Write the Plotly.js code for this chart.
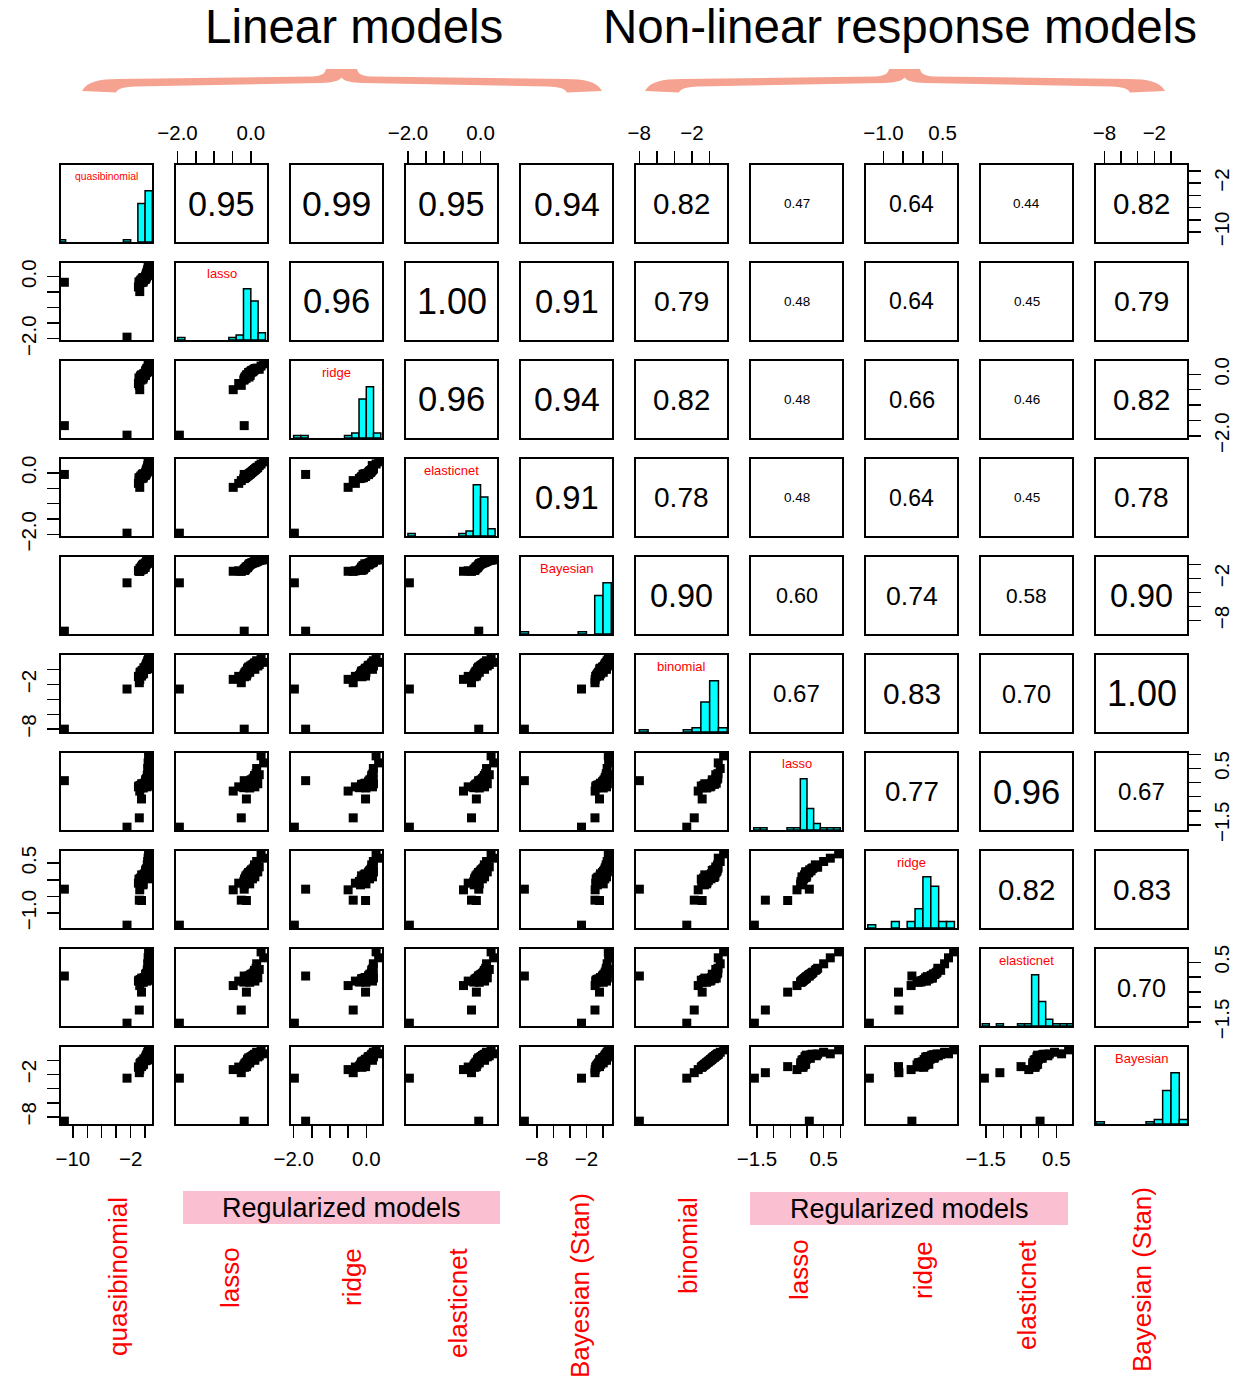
<!DOCTYPE html>
<html>
<head>
<meta charset="utf-8">
<script src="https://cdn.plot.ly/plotly-3.0.1.min.js"></script>
<style>
  html, body { margin: 0; padding: 0; background: #fff; }
  #chart { width: 1246px; height: 1381px; }
</style>
</head>
<body>
<div id="chart"></div>
<script>
// ---- Model estimates (one value per observation, same order in every array) ----
const quasibinomial = [-11.17, -2.5, -0.74, -0.92, -0.80, -0.55, -0.85, -0.30, -0.66, -0.70, -0.50, -0.21, -0.60, -0.42, 0.02, -0.46, -0.34, -0.10, -0.38, 0.10, -0.26, -0.16, 0.14, 0.05, 0.20, 0.08, 0.28, 0.12, 0.34, 0.18, 0.16, 0.40, 0.22, 0.30, 0.46, 0.24, 0.26, 0.49, 0.36, 0.32, 0.44, 0.38, 0.48, 0.42];
const lassoLinear = [-0.18, -1.95, -0.48, -0.33, -0.26, -0.19, -0.17, -0.18, -0.15, -0.16, -0.12, -0.14, -0.11, -0.13, -0.09, -0.10, -0.07, -0.08, -0.05, -0.06, -0.03, -0.04, -0.015, -0.02, -0.005, 0.01, 0.03, 0.02, 0.045, 0.06, 0.07, 0.09, 0.08, 0.10, 0.12, 0.11, 0.13, 0.145, 0.16, 0.19, 0.175, 0.23, 0.28, 0.35];
const ridgeLinear = [-1.67, -1.98, -0.50, -0.30, -0.36, -0.19, -0.12, -0.16, -0.08, -0.14, -0.02, -0.10, -0.05, -0.13, -0.015, -0.06, -0.03, -0.025, -0.09, 0.06, -0.01, 0.03, 0.08, -0.04, 0.05, 0.10, 0.07, 0.12, 0.09, 0.14, 0.11, 0.16, 0.13, 0.15, 0.18, 0.17, 0.185, 0.19, 0.195, 0.198, 0.175, 0.165, 0.27, 0.34];
const elasticnetLinear = [-0.05, -1.96, -0.47, -0.34, -0.25, -0.185, -0.16, -0.175, -0.155, -0.15, -0.115, -0.13, -0.105, -0.125, -0.085, -0.095, -0.075, -0.07, -0.045, -0.055, -0.035, -0.03, -0.01, -0.025, -0.004, 0.015, 0.025, 0.02, 0.05, 0.055, 0.075, 0.085, 0.08, 0.105, 0.115, 0.11, 0.135, 0.14, 0.165, 0.185, 0.17, 0.24, 0.29, 0.36];
const bayesLinear = [-9.5, -2.6, -0.95, -0.88, -0.97, -0.78, -0.82, -0.68, -0.72, -0.56, -0.42, -0.60, -0.48, -0.36, -0.40, -0.28, -0.22, -0.30, -0.12, -0.06, 0.03, 0.08, 0.05, 0.12, 0.16, 0.14, 0.20, 0.24, 0.22, 0.28, 0.31, 0.27, 0.35, 0.38, 0.34, 0.42, 0.45, 0.40, 0.50, 0.53, 0.48, 0.58, 0.64, 0.68];
const binomial = [-7.99, -2.6, -1.3, -0.9, -1.75, -0.8, -0.95, -0.6, -0.7, -0.4, -0.85, -0.5, -0.3, -0.2, 0.1, -0.55, -0.15, 0.2, -0.1, 0.35, -0.35, 0.25, 0.4, 0.02, 0.5, 0.3, 0.6, 0.45, 0.15, 0.7, 0.55, 0.8, 0.65, 0.9, 0.75, 0.05, 0.85, 0.95, 1.2, 0.5, 0.92, 0.7, 1.59, 0.98];
const lassoNonlinear = [0.07, -1.58, -0.3, -0.15, -1.25, -0.18, -0.12, -0.17, -0.1, -0.14, -0.58, -0.08, -0.16, -0.06, -0.11, -0.04, -0.13, -0.02, -0.09, 0.03, -0.19, -0.05, 0.06, -0.07, -0.03, 0.1, -0.01, 0.08, -0.12, 0.14, -0.06, 0.18, 0.05, 0.25, -0.02, -0.15, 0.12, 0.32, 0.5, -0.04, 0.16, 0.28, 0.95, 0.7];
const ridgeNonlinear = [-0.28, -1.36, -0.3, -0.1, -0.61, -0.05, 0.02, -0.15, 0.05, 0.01, -0.62, 0.08, -0.08, 0.12, 0.04, 0.15, -0.02, 0.18, 0.06, 0.22, -0.12, 0.1, 0.25, 0.14, 0.07, 0.28, 0.11, 0.3, 0.03, 0.33, 0.16, 0.36, 0.21, 0.45, 0.23, 0.09, 0.27, 0.38, 0.55, 0.24, 0.34, 0.39, 0.78, 0.65];
const elasticnetNonlinear = [0.04, -1.54, -0.28, -0.13, -1.1, -0.16, -0.1, -0.15, -0.08, -0.12, -0.5, -0.06, -0.14, -0.05, -0.09, -0.03, -0.11, -0.01, -0.07, 0.04, -0.17, -0.04, 0.07, -0.06, -0.02, 0.1, 0.02, 0.09, -0.1, 0.13, -0.05, 0.17, 0.06, 0.23, -0.03, -0.13, 0.11, 0.3, 0.45, -0.02, 0.15, 0.26, 0.85, 0.65];
const bayesNonlinear = [-8.6, -2.5, -1.28, -0.92, -1.72, -0.78, -0.96, -0.62, -0.68, -0.42, -0.86, -0.52, -0.28, -0.22, 0.12, -0.53, -0.17, 0.18, -0.08, 0.37, -0.33, 0.23, 0.42, -0.02, 0.48, 0.32, 0.58, 0.47, 0.13, 0.72, 0.53, 0.78, 0.67, 0.88, 0.77, 0.04, 0.83, 0.93, 1.18, 0.52, 0.9, 0.68, 1.52, 0.96];

// Pairwise correlations, upper triangle, row by row
const correlations = [
  [0.95, 0.99, 0.95, 0.94, 0.82, 0.47, 0.64, 0.44, 0.82],
  [0.96, 1.00, 0.91, 0.79, 0.48, 0.64, 0.45, 0.79],
  [0.96, 0.94, 0.82, 0.48, 0.66, 0.46, 0.82],
  [0.91, 0.78, 0.48, 0.64, 0.45, 0.78],
  [0.90, 0.60, 0.74, 0.58, 0.90],
  [0.67, 0.83, 0.70, 1.00],
  [0.77, 0.96, 0.67],
  [0.82, 0.83],
  [0.70]
];

// Labels
const panelNames = ['quasibinomial', 'lasso', 'ridge', 'elasticnet', 'Bayesian', 'binomial', 'lasso', 'ridge', 'elasticnet', 'Bayesian'];
const modelLabels = ['quasibinomial', 'lasso', 'ridge', 'elasticnet', 'Bayesian (Stan)', 'binomial', 'lasso', 'ridge', 'elasticnet', 'Bayesian (Stan)'];
const groupTitles = ['Linear models', 'Non-linear response models'];
const regularizedLabel = 'Regularized models';

// Axis ticks: spacing and which tick values carry a label
const tickSteps = [2, 0.5, 0.5, 0.5, 2, 2, 0.5, 0.5, 0.5, 2];
const labelledTicks = [[-10, -2], [-2, 0], [-2, 0], [-2, 0], [-8, -2], [-8, -2], [-1.5, 0.5], [-1, 0.5], [-1.5, 0.5], [-8, -2]];
// Histogram break widths
const binWidths = [1, 0.2, 0.2, 0.2, 1, 1, 0.2, 0.2, 0.2, 1];

// ---- Page geometry (pixels) ----
const W = 1246, H = 1381;
const colLeft = 61, colStep = 115, panelW = 91;
const rowTop = 165, rowStep = 98, panelH = 77;
const FONT = '"Liberation Sans", Arial, Helvetica, sans-serif';
const px = x => x / W;
const py = y => 1 - y / H;

const series = [quasibinomial, lassoLinear, ridgeLinear, elasticnetLinear, bayesLinear,
                binomial, lassoNonlinear, ridgeNonlinear, elasticnetNonlinear, bayesNonlinear];
const n = series.length;

// Each variable's axis spans its data range plus 4% on each side
const ranges = series.map(v => {
  const lo = Math.min(...v), hi = Math.max(...v), pad = 0.04 * (hi - lo);
  return [lo - pad, hi + pad];
});

// Histogram bins and tallest bar per variable
const bins = series.map((v, idx) => {
  const size = binWidths[idx];
  const start = Math.floor(Math.min(...v) / size) * size;
  const end = Math.ceil(Math.max(...v) / size + 1e-9) * size;
  const counts = new Array(Math.round((end - start) / size) + 1).fill(0);
  v.forEach(x => { counts[Math.floor((x - start) / size + 1e-9)] += 1; });
  return { start, end, size, maxCount: Math.max(...counts) };
});

function fmtTick(v, step) {
  const s = step < 1 ? v.toFixed(1) : String(v);
  return s.replace('-', '\u2212');
}
function ticksFor(idx) {
  const [lo, hi] = ranges[idx], step = tickSteps[idx];
  const vals = [], text = [];
  for (let m = Math.ceil(lo / step - 1e-9); m * step <= hi + 1e-9; m++) {
    const v = Math.round(m * step * 100) / 100;
    vals.push(v);
    text.push(labelledTicks[idx].some(l => Math.abs(l - v) < 1e-6) ? fmtTick(v, step) : '');
  }
  return { vals, text };
}

const tickFont = { family: FONT, size: 20.5, color: '#000' };
const baseAxis = {
  showgrid: false, zeroline: false, showline: true, mirror: true,
  linecolor: '#000', linewidth: 2, ticks: '', showticklabels: false, fixedrange: true
};
function withTicks(axis, idx, side, angle) {
  const t = ticksFor(idx);
  return Object.assign(axis, {
    side, ticks: 'outside', ticklen: 12, tickwidth: 1.5, tickcolor: '#000',
    tickmode: 'array', tickvals: t.vals, ticktext: t.text, showticklabels: true,
    tickfont: tickFont, tickangle: angle, ticklabelstandoff: 3
  });
}

const traces = [];
const layout = {
  width: W, height: H,
  margin: { l: 0, r: 0, t: 0, b: 0 },
  paper_bgcolor: '#fff', plot_bgcolor: '#fff',
  showlegend: false, font: { family: FONT, color: '#000' },
  annotations: [], shapes: []
};

for (let i = 0; i < n; i++) {
  for (let j = 0; j < n; j++) {
    const k = i * n + j + 1;
    const suffix = k === 1 ? '' : String(k);
    const xr = 'x' + suffix, yr = 'y' + suffix;
    const left = colLeft + j * colStep, top = rowTop + i * rowStep;

    let xa = Object.assign({}, baseAxis, { domain: [px(left), px(left + panelW)], range: ranges[j], anchor: yr });
    let ya = Object.assign({}, baseAxis, {
      domain: [py(top + panelH), py(top)],
      range: i === j ? [0, 1.5 * bins[j].maxCount] : ranges[i], anchor: xr
    });
    if (i === 0 && j % 2 === 1) xa = withTicks(xa, j, 'top', 0);
    if (i === n - 1 && j % 2 === 0) xa = withTicks(xa, j, 'bottom', 0);
    if (j === 0 && i % 2 === 1) ya = withTicks(ya, i, 'left', -90);
    if (j === n - 1 && i % 2 === 0) ya = withTicks(ya, i, 'right', -90);
    layout['xaxis' + suffix] = xa;
    layout['yaxis' + suffix] = ya;

    if (i > j) {
      traces.push({
        type: 'scatter', mode: 'markers', x: series[j], y: series[i],
        xaxis: xr, yaxis: yr, hoverinfo: 'skip',
        marker: { symbol: 'square', size: 9, color: '#000' }
      });
    } else if (i === j) {
      const b = bins[j];
      traces.push({
        type: 'histogram', x: series[j], xaxis: xr, yaxis: yr, hoverinfo: 'skip',
        xbins: { start: b.start, end: b.end, size: b.size },
        marker: { color: '#00FFFF', line: { color: '#000', width: 1.5 } }
      });
      const name = panelNames[j];
      layout.annotations.push({
        xref: xr + ' domain', yref: 'paper', x: 0.5, y: py(top + 11),
        xanchor: 'center', yanchor: 'middle',
        text: name, showarrow: false,
        font: { family: FONT, size: Math.min(13, 70 / (name.length * 0.52)), color: '#FF0000' }
      });
    } else {
      traces.push({ type: 'scatter', mode: 'markers', x: [], y: [], xaxis: xr, yaxis: yr, hoverinfo: 'skip' });
      const r = correlations[i][j - i - 1];
      layout.annotations.push({
        xref: xr + ' domain', yref: yr + ' domain', x: 0.5, y: 0.5,
        xanchor: 'center', yanchor: 'middle',
        text: r.toFixed(2), showarrow: false,
        font: { family: FONT, size: r < 0.5 ? 13.5 : 36 * r, color: '#000' }
      });
    }
  }
}

// ---- Group headings with curly braces ----
const titleCenters = [354, 900];
groupTitles.forEach((t, g) => {
  layout.annotations.push({
    xref: 'paper', yref: 'paper', x: px(titleCenters[g]), y: py(27),
    text: t, showarrow: false, xanchor: 'center', yanchor: 'middle',
    font: { family: FONT, size: 47.5, color: '#000' }
  });
});

// Brace outline (pixels), drawn once per group with a horizontal shift
const braceOutline = [
  ['M', [82, 91]], ['C', [87, 81.5], [100, 79], [118, 79]], ['L', [312, 76.5]],
  ['C', [322, 76], [325, 73.5], [326, 69]], ['L', [357, 69]],
  ['C', [358, 73.5], [361, 76], [371, 76.5]], ['L', [566, 79]],
  ['C', [584, 79], [597, 81.5], [602, 91]], ['L', [567, 92.5]],
  ['C', [565, 88], [558, 87], [548, 86.5]], ['L', [362, 83]],
  ['C', [350, 82.5], [344, 81], [341.5, 77.5]],
  ['C', [339, 81], [333, 82.5], [321, 83]], ['L', [135, 86.5]],
  ['C', [125, 87], [118, 88], [116, 92.5]], ['Z']
];
function bracePath(dx) {
  return braceOutline.map(([cmd, ...pts]) =>
    cmd + pts.map(([x, y]) => px(x + dx).toFixed(5) + ',' + py(y).toFixed(5)).join(' ')
  ).join(' ');
}
[0, 563].forEach(dx => {
  layout.shapes.push({
    type: 'path', xref: 'paper', yref: 'paper', path: bracePath(dx),
    fillcolor: '#F5A390', line: { width: 0 }, layer: 'above'
  });
});

// ---- Pink "Regularized models" bands ----
const bands = [[183, 500, 1191, 1224], [750, 1068, 1192, 1225]];
bands.forEach(([x0, x1, y0, y1]) => {
  layout.shapes.push({
    type: 'rect', xref: 'paper', yref: 'paper',
    x0: px(x0), x1: px(x1), y0: py(y1), y1: py(y0),
    fillcolor: '#FBBFD2', line: { width: 0 }, layer: 'below'
  });
  layout.annotations.push({
    xref: 'paper', yref: 'paper', x: px((x0 + x1) / 2), y: py((y0 + y1) / 2),
    text: regularizedLabel, showarrow: false, xanchor: 'center', yanchor: 'middle',
    font: { family: FONT, size: 27, color: '#000' }
  });
});

// ---- Rotated model names under the columns ----
const labelCenters = [[118, 1277], [230, 1277], [352, 1277], [458, 1303], [580, 1286],
                      [688, 1246], [799, 1269], [923, 1270], [1027, 1295], [1142, 1280]];
modelLabels.forEach((t, idx) => {
  const [x, y] = labelCenters[idx];
  layout.annotations.push({
    xref: 'paper', yref: 'paper', x: px(x), y: py(y), textangle: -90,
    text: t, showarrow: false, xanchor: 'center', yanchor: 'middle',
    font: { family: FONT, size: 26, color: '#FF0000' }
  });
});

Plotly.newPlot('chart', traces, layout, { staticPlot: true, displayModeBar: false });
</script>
</body>
</html>
